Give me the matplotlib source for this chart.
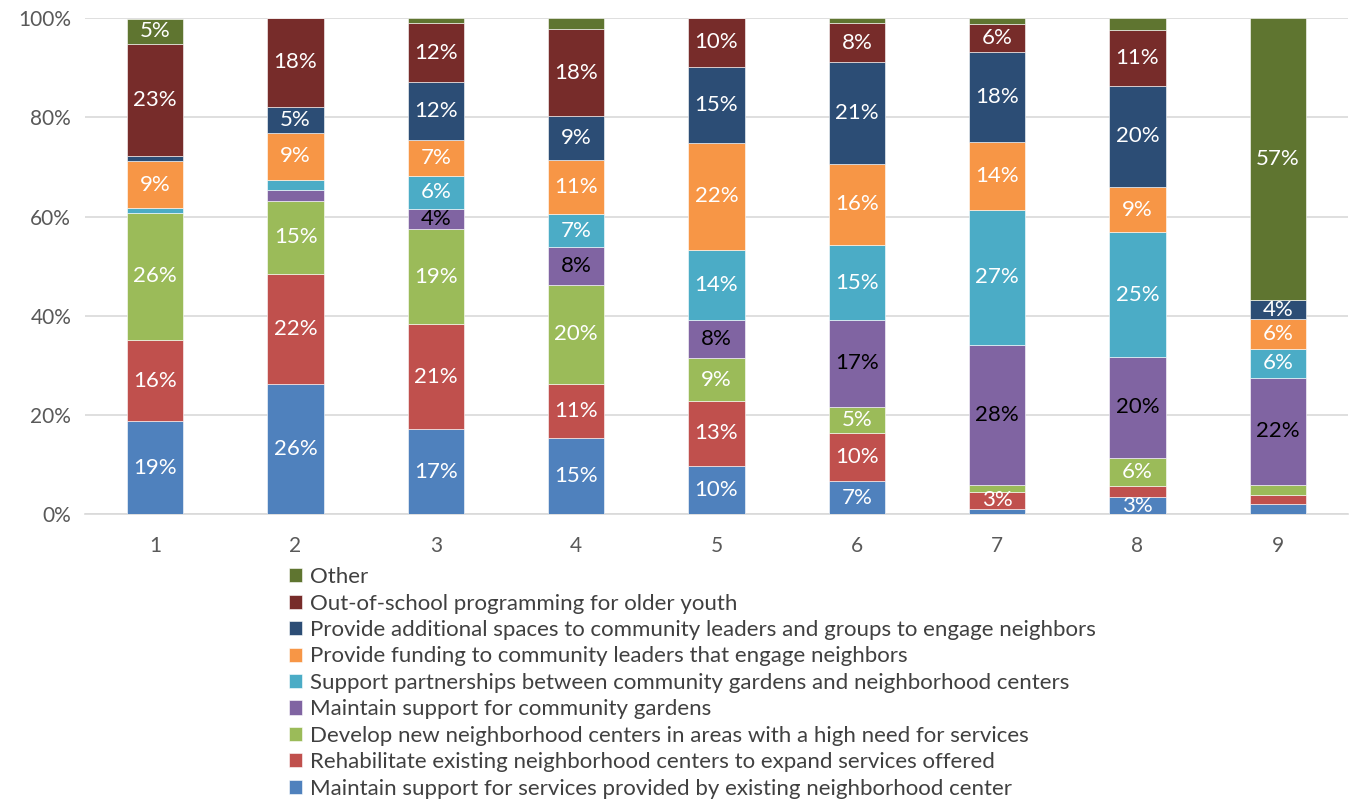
import numpy as np
import matplotlib
matplotlib.use("Agg")
import matplotlib.pyplot as plt

plt.rcParams["font.family"] = ["Lato", "DejaVu Sans"]

groups = ["1", "2", "3", "4", "5", "6", "7", "8", "9"]

series_names = [
    "Maintain support for services provided by existing neighborhood center",
    "Rehabilitate existing neighborhood centers to expand services offered",
    "Develop new neighborhood centers in areas with a high need for services",
    "Maintain support for community gardens",
    "Support partnerships between community gardens and neighborhood centers",
    "Provide funding to community leaders that engage neighbors",
    "Provide additional spaces to community leaders and groups to engage neighbors",
    "Out-of-school programming for older youth",
    "Other",
]

# percent of respondents per group, bottom to top
maintain_services = [18.8, 26.3, 17.1, 15.4, 9.8, 6.6, 1.1, 3.4, 2.0]
rehabilitate = [16.3, 22.1, 21.2, 10.9, 13.0, 9.7, 3.4, 2.3, 1.9]
develop_new = [25.7, 14.8, 19.2, 19.9, 8.7, 5.4, 1.3, 5.7, 2.0]
gardens = [0.0, 2.1, 4.1, 7.6, 7.6, 17.4, 28.3, 20.3, 21.6]
partnerships = [1.0, 2.1, 6.5, 6.7, 14.2, 15.2, 27.3, 25.1, 5.8]
funding = [9.3, 9.4, 7.4, 10.9, 21.6, 16.3, 13.6, 9.1, 6.0]
spaces = [1.0, 5.3, 11.7, 8.8, 15.3, 20.6, 18.1, 20.5, 3.8]
out_of_school = [22.7, 17.9, 11.7, 17.5, 9.8, 7.7, 5.7, 11.2, 0.0]
other = [5.1, 0.0, 1.1, 2.3, 0.0, 1.1, 1.2, 2.4, 56.9]

values = [maintain_services, rehabilitate, develop_new, gardens, partnerships,
          funding, spaces, out_of_school, other]
colors = ["#4F81BD", "#C0504D", "#9BBB59", "#8064A2", "#4BACC6",
          "#F79646", "#2C4D75", "#772C2A", "#5F7530"]
label_colors = ["white", "white", "white", "black", "white",
                "white", "white", "white", "white"]

fig = plt.figure(figsize=(13.5, 8.01), dpi=100)
ax = fig.add_axes([0.063, 0.358, 0.9355, 0.6195])

x = np.arange(len(groups))
bottom = np.zeros(len(groups))
handles = []
for name, vals, color, lc in zip(series_names, values, colors, label_colors):
    vals = np.array(vals)
    bars = ax.bar(x, vals, width=0.4, bottom=bottom, color=color,
                  edgecolor="white", linewidth=0.4, label=name, zorder=3)
    handles.append(bars)
    for xi, v, b in zip(x, vals, bottom):
        if v >= 3:
            ax.text(xi, b + v / 2, f"{v:.0f}%", ha="center", va="center",
                    fontsize=16, color=lc, zorder=4)
    bottom += vals

ax.set_xlim(-0.5, len(groups) - 0.5)
ax.set_ylim(0, 100)
ax.set_yticks(range(0, 101, 20))
ax.set_yticklabels([f"{t}%" for t in range(0, 101, 20)])
ax.set_xticks(x)
ax.set_xticklabels(groups)
ax.tick_params(axis="both", length=0, labelsize=15, colors="#595959")
ax.tick_params(axis="x", pad=16)
ax.tick_params(axis="y", pad=10)
ax.yaxis.grid(True, color="#D9D9D9", linewidth=1.2, zorder=0)
for side in ["top", "right", "left"]:
    ax.spines[side].set_visible(False)
ax.spines["bottom"].set_color("#D9D9D9")
ax.spines["bottom"].set_linewidth(1.2)

fig.legend(handles[::-1], series_names[::-1], loc="upper left",
           bbox_to_anchor=(0.214, 0.292), frameon=False, fontsize=16,
           handlelength=0.6, handleheight=0.6, handletextpad=0.35,
           labelspacing=0.29, borderaxespad=0, borderpad=0,
           labelcolor="#404040")

fig.savefig("out.png", dpi=100)
